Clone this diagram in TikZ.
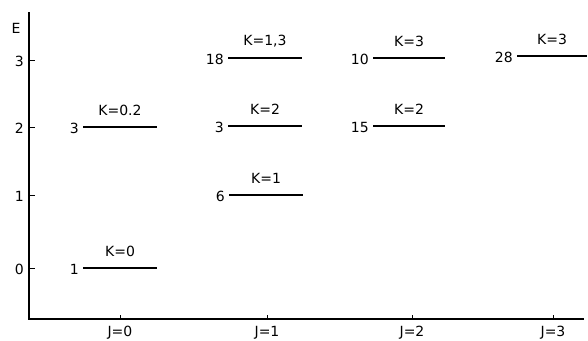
\documentclass[tikz,border=0pt]{standalone}
\usepackage{fontspec}
\setmainfont{DejaVu Sans}
\usetikzlibrary{calc}
\newcommand\enlev[6]{% name, x1, x2, y, K-label, degeneracy
  \coordinate (#1a) at (#2,#4);
  \coordinate (#1b) at (#3,#4);
  \draw[lvl] (#1a) -- (#1b);
  \node[klab] (#1k) at ($(#1a)!0.5!(#1b)+(0,-11)$) {#5};
  \node[dlab] (#1d) at ($(#1a)+(-4,1)$) {#6};
}
\begin{document}
\begin{tikzpicture}[x=1pt,y=-1pt,
  lvl/.style={line width=1.8pt},
  axis/.style={line width=1.4pt},
  txt/.style={font=\fontsize{14}{14}\selectfont, inner sep=0pt},
  klab/.style={txt, anchor=south},
  dlab/.style={txt, anchor=east}]
\useasboundingbox (0,0) rectangle (588,340);
% axes
\coordinate (o) at (29,319);
\coordinate (top) at (29,12);
\coordinate (xend) at (584,319);
\draw[axis] (top) -- (o) -- (xend);
\node[txt] (E) at (16,28) {E};
\foreach \v/\y in {3/60,2/127,1/195,0/268}{
  \coordinate (t\v) at (29,\y);
  \draw[line width=0.9pt] (t\v) -- ++(6,0);
  \node[txt, anchor=east] (yl\v) at (24,\y+1) {\v};
}
\foreach \j/\x in {0/120,1/267,2/412,3/553}{
  \coordinate (xt\j) at (\x,319);
  \draw[line width=0.9pt] (xt\j) -- ++(0,-4);
  \node[txt] (jl\j) at (\x,333) {J=\j};
}
% levels
\enlev{a}{83}{157}{127}{K=0.2}{3}
\enlev{b}{83}{157}{268}{K=0}{1}
\enlev{c}{228}{302}{58}{K=1,3}{18}
\enlev{d}{228}{302}{126}{K=2}{3}
\enlev{e}{229}{303}{195}{K=1}{6}
\enlev{f}{373}{445}{58}{K=3}{10}
\enlev{g}{373}{445}{126}{K=2}{15}
\enlev{h}{517}{587}{56}{K=3}{28}
\end{tikzpicture}
\end{document}
